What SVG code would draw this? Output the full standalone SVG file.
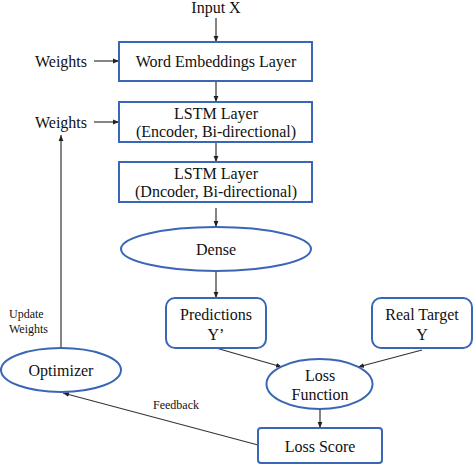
<svg xmlns="http://www.w3.org/2000/svg" width="474" height="465" viewBox="0 0 474 465">
<defs>
<marker id="ah" viewBox="0 0 10 10" refX="10" refY="5" markerWidth="6" markerHeight="6" orient="auto" markerUnits="userSpaceOnUse">
<path d="M0,1 L10,5 L0,9 z" fill="#222"/>
</marker>
<style>
.n{fill:#fff;stroke:#3a66b8;stroke-width:2}
.t{font-family:"Liberation Serif","Times New Roman",serif;font-size:16px;fill:#111;text-anchor:middle}
.s{font-family:"Liberation Serif","Times New Roman",serif;font-size:12px;fill:#111}
.c{fill:none;stroke:#333;stroke-width:1.2;marker-end:url(#ah)}
</style>
</defs>
<rect width="474" height="465" fill="#fff"/>
<g id="connectors">
<line class="c" x1="216" y1="18" x2="216" y2="42"/>
<line class="c" x1="94" y1="61" x2="119" y2="61"/>
<line class="c" x1="216" y1="81" x2="216" y2="102"/>
<line class="c" x1="94" y1="122" x2="119" y2="122"/>
<line class="c" x1="216" y1="142" x2="216" y2="162"/>
<line class="c" x1="216" y1="208" x2="216" y2="227"/>
<line class="c" x1="216" y1="271" x2="216" y2="298"/>
<line class="c" x1="216" y1="348" x2="282" y2="367"/>
<line class="c" x1="422" y1="350" x2="358" y2="367"/>
<line class="c" x1="320" y1="409" x2="320" y2="428"/>
<line class="c" x1="258" y1="445" x2="63" y2="393"/>
<line class="c" x1="61" y1="348" x2="61" y2="135"/>
<text class="s" x="153" y="409">Feedback</text>
<text class="s" x="9" y="318">Update</text>
<text class="s" x="9" y="333">Weights</text>
</g>
<g id="input"><text class="t" x="216" y="13">Input X</text></g>
<g id="weights1"><text class="t" x="61" y="67">Weights</text></g>
<g id="weights2"><text class="t" x="61" y="128">Weights</text></g>
<g id="embed">
<rect class="n" x="119" y="42" width="193" height="39"/>
<text class="t" x="216" y="67">Word Embeddings Layer</text>
</g>
<g id="lstm1">
<rect class="n" x="119" y="102" width="193" height="40"/>
<text class="t" x="216" y="119">LSTM Layer</text>
<text class="t" x="216" y="137">(Encoder, Bi-directional)</text>
</g>
<g id="lstm2">
<rect class="n" x="119" y="162" width="193" height="40"/>
<text class="t" x="216" y="179">LSTM Layer</text>
<text class="t" x="216" y="197">(Dncoder, Bi-directional)</text>
</g>
<g id="dense">
<ellipse class="n" cx="216" cy="249" rx="95" ry="22"/>
<text class="t" x="216" y="255">Dense</text>
</g>
<g id="pred">
<rect class="n" x="166" y="298" width="100" height="50" rx="9"/>
<text class="t" x="216" y="320">Predictions</text>
<text class="t" x="216" y="340">Y’</text>
</g>
<g id="real">
<rect class="n" x="372" y="298" width="100" height="50" rx="9"/>
<text class="t" x="422" y="320">Real Target</text>
<text class="t" x="422" y="340">Y</text>
</g>
<g id="loss">
<ellipse class="n" cx="319.5" cy="384" rx="53" ry="25"/>
<text class="t" x="320" y="381">Loss</text>
<text class="t" x="320" y="400">Function</text>
</g>
<g id="score">
<rect class="n" x="258" y="428" width="124" height="35" rx="3"/>
<text class="t" x="320" y="452">Loss Score</text>
</g>
<g id="opt">
<ellipse class="n" cx="61" cy="370" rx="60" ry="22"/>
<text class="t" x="61" y="376">Optimizer</text>
</g>
</svg>
